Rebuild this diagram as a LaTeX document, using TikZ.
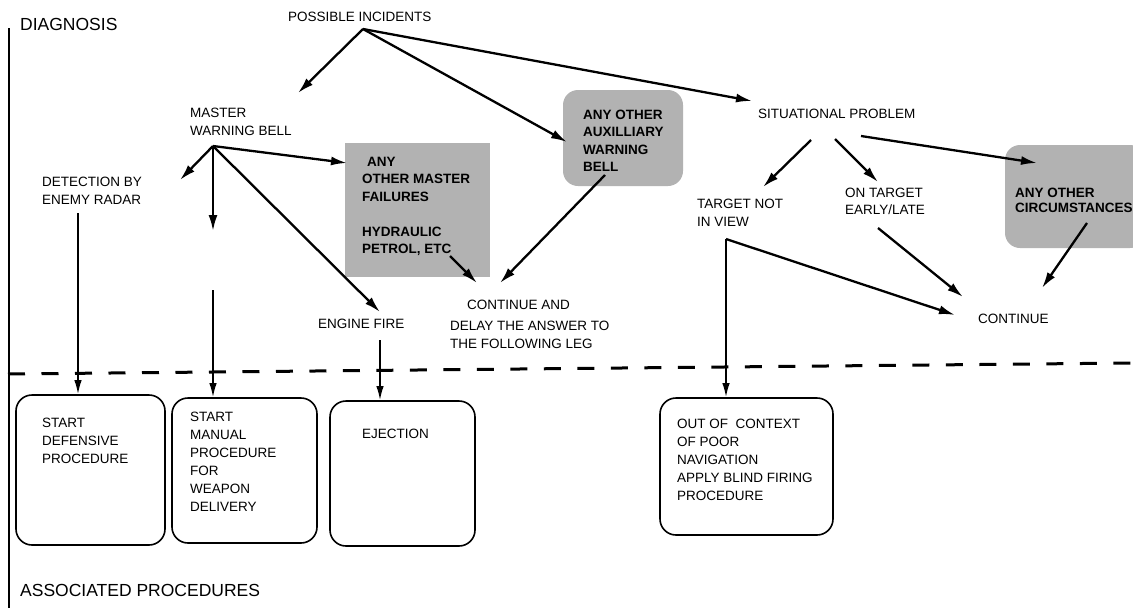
\documentclass[tikz,border=0pt]{standalone}
\usepackage{fontspec}
\setmainfont{Liberation Sans}
\usetikzlibrary{arrows.meta}
\begin{document}
\begin{tikzpicture}[x=1pt,y=-1pt,
  lbl/.style={inner sep=0pt, anchor=north west, align=left, font=\fontsize{13.5}{18}\selectfont},
  slbl/.style={lbl, font=\fontsize{13.5}{17.5}\selectfont\bfseries},
  big/.style={inner sep=0pt, anchor=west, font=\fontsize{17.5}{20}\selectfont},
  arr/.style={line width=2.3pt, -{Latex[length=16pt,width=9pt]}},
  varr/.style={line width=1.7pt, -{Latex[length=14pt,width=7.5pt]}},
  procbox/.style={draw, line width=1.6pt, rounded corners=16pt, inner sep=0pt},
  shadebox/.style={fill=black!30, inner sep=0pt},
]
\useasboundingbox (0,0) rectangle (1133,608);

% frame and separator
\draw[line width=1.8pt] (9,28) -- (9,608);
\draw[line width=3pt, dash pattern=on 17pt off 16.5pt] (8,374) -- (1133,363);

% shaded boxes
\node[shadebox, minimum width=145pt, minimum height=134pt] (mfbox) at (417.5,210) {};
\node[shadebox, rounded corners=15pt, minimum width=120pt, minimum height=96pt] (auxbox) at (623,138) {};
\node[shadebox, rounded corners=15pt, minimum width=140pt, minimum height=103pt] (circbox) at (1075,196.5) {};

% procedure boxes
\node[procbox, minimum width=149pt, minimum height=150pt] (box1) at (90.5,470) {};
\node[procbox, minimum width=145pt, minimum height=145pt] (box2) at (244.5,470.5) {};
\node[procbox, minimum width=145pt, minimum height=145pt] (box3) at (402.5,473.5) {};
\node[procbox, minimum width=173pt, minimum height=137pt] (box4) at (746.5,466.5) {};

% texts
\node[big] (diag) at (20,24) {DIAGNOSIS};
\node[big] (assoc) at (20,590) {ASSOCIATED PROCEDURES};
\node[lbl] (pi) at (288,12) {POSSIBLE INCIDENTS};
\node[lbl] (mwb) at (190,108) {MASTER\\WARNING BELL};
\node[lbl, font=\fontsize{13.5}{17.5}\selectfont] (det) at (42,177) {DETECTION BY\\ENEMY RADAR};
\node[lbl] (ef) at (318,319) {ENGINE FIRE};
\node[slbl] (mf) at (362,157) {\hspace{5pt}ANY\\OTHER MASTER\\FAILURES\\[17.5pt]HYDRAULIC\\PETROL, ETC};
\node[slbl, font=\fontsize{13.5}{17.2}\selectfont\bfseries] (aux) at (583,110) {ANY OTHER\\AUXILLIARY\\WARNING\\BELL};
\node[slbl, font=\fontsize{13.5}{15}\selectfont\bfseries] (circ) at (1015,188) {ANY OTHER\\CIRCUMSTANCES};
\node[lbl] (sp) at (758,109) {SITUATIONAL PROBLEM};
\node[lbl] (tniv) at (697,199) {TARGET NOT\\IN VIEW};
\node[lbl, font=\fontsize{13.5}{17}\selectfont] (ote) at (845,188) {ON TARGET\\EARLY/LATE};
\node[lbl] (cont) at (978,314) {CONTINUE};
\node[lbl] (cad) at (450,300) {\hspace{17pt}CONTINUE AND\\[3pt]DELAY THE ANSWER TO\\THE FOLLOWING LEG};
\node[lbl] (t1) at (42,418) {START\\DEFENSIVE\\PROCEDURE};
\node[lbl] (t2) at (190,412) {START\\MANUAL\\PROCEDURE\\FOR\\WEAPON\\DELIVERY};
\node[lbl] (t3) at (362,429) {EJECTION};
\node[lbl] (t4) at (677,419) {OUT OF\ \ CONTEXT\\OF POOR\\NAVIGATION\\APPLY BLIND FIRING\\PROCEDURE};

% connector coordinates
\coordinate (piHub) at (363,29);
\coordinate (piA) at (298,93);
\coordinate (piB) at (567,142);
\coordinate (piC) at (752,101);
\coordinate (mwHub) at (213,146);
\coordinate (mwA) at (180,180);
\coordinate (mwB) at (213,231);
\coordinate (mwC) at (347,163);
\coordinate (mwD) at (380,312);
\coordinate (detA) at (78,213);
\coordinate (midA) at (213,290);
\coordinate (efA) at (380,340);
\coordinate (tnHub) at (726,239);
\coordinate (tnA) at (955,315);
\coordinate (mfA) at (450,256);
\coordinate (mfB) at (477,283);
\coordinate (auxA) at (605,175);
\coordinate (auxB) at (500,283);
\coordinate (spA1) at (811,140);
\coordinate (spA2) at (763,187);
\coordinate (spB1) at (835,139);
\coordinate (spB2) at (878,182);
\coordinate (spC1) at (861,136);
\coordinate (spC2) at (1037,163);
\coordinate (oteA) at (878,228);
\coordinate (oteB) at (963,297);
\coordinate (ciA) at (1087,223);
\coordinate (ciB) at (1042,288);

% connectors
\draw[arr] (piHub) -- (piA);
\draw[arr] (piHub) -- (piB);
\draw[arr] (piHub) -- (piC);
\draw[arr] (mwHub) -- (mwA);
\draw[arr] (mwHub) -- (mwB);
\draw[arr] (mwHub) -- (mwC);
\draw[arr] (mwHub) -- (mwD);
\draw[varr] (detA) -- (detA |- box1.north);
\draw[varr] (midA) -- (midA |- box2.north);
\draw[varr] (efA) -- (efA |- box3.north);
\draw[varr] (tnHub) -- (tnHub |- box4.north);
\draw[arr] (tnHub) -- (tnA);
\draw[arr] (mfA) -- (mfB);
\draw[arr] (auxA) -- (auxB);
\draw[arr] (spA1) -- (spA2);
\draw[arr] (spB1) -- (spB2);
\draw[arr] (spC1) -- (spC2);
\draw[arr] (oteA) -- (oteB);
\draw[arr] (ciA) -- (ciB);
\end{tikzpicture}
\end{document}
